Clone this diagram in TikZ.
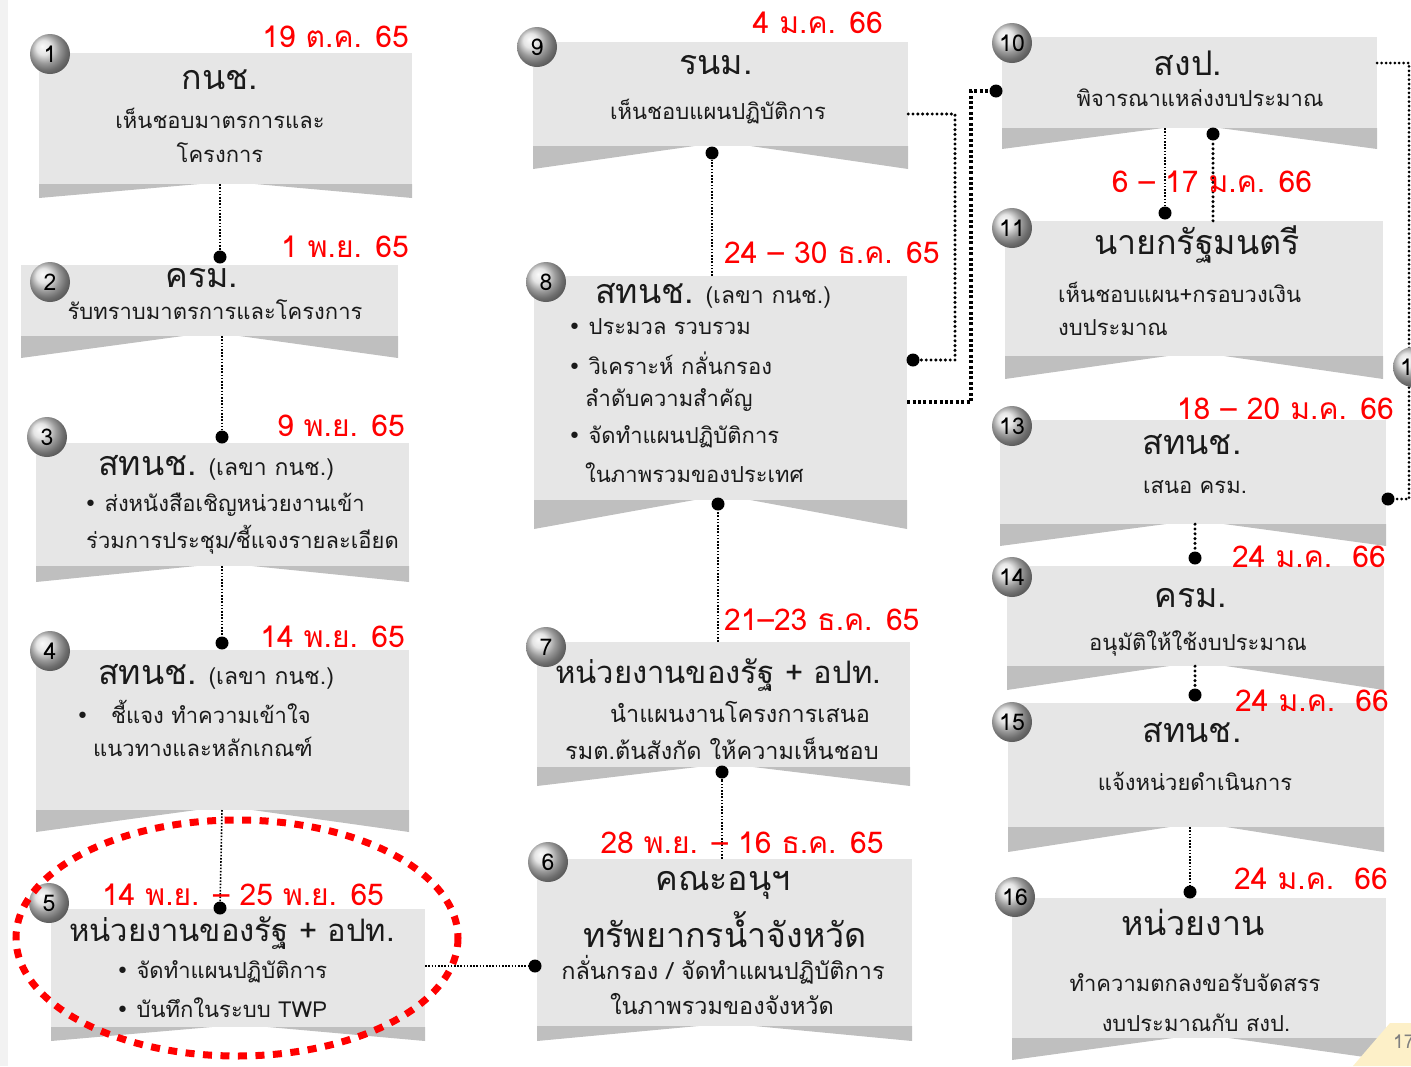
\documentclass[tikz,border=0pt]{standalone}
\usepackage{fontspec}
\setmainfont[Script=Thai]{Loma}
\newfontfamily\dejavu{DejaVu Sans}
\usetikzlibrary{fit}
\definecolor{boxc}{HTML}{E6E6E6}
\definecolor{stripc}{HTML}{BFBFBF}
\definecolor{cream}{HTML}{FDF0C8}
\definecolor{leftbar}{HTML}{F2F2F2}
\definecolor{txt}{HTML}{1A1A1A}
\definecolor{datered}{HTML}{FF0000}
\newcommand\bul{{\dejavu\char"2022}}
\newcommand\mybox[6]{%
  \pgfmathsetmacro\xa{#2+0.43*(#4-#2)}%
  \pgfmathsetmacro\xb{#2+0.58*(#4-#2)}%
  \fill[stripc] (#2,#5) -- (\xa,#5) -- (#2,#6) -- cycle;
  \fill[stripc] (\xb,#5) -- (#4,#5) -- (#4,#6) -- cycle;
  \coordinate (#1nw) at (#2,#3);
  \coordinate (#1se) at (#4,#5);
  \node[fit=(#1nw)(#1se), inner sep=0pt, fill=boxc] (#1) {};
}
\newcommand\secpart[1]{{\fontsize{23}{26}\selectfont #1}}
\begin{document}
\begin{tikzpicture}[x=1pt,y=-1pt,
  ttl/.style={font=\fontsize{34}{38}\selectfont, text=txt, inner sep=0pt},
  ttlb/.style={font=\fontsize{31}{34}\selectfont, text=txt, inner sep=0pt},
  subt/.style={font=\fontsize{22}{26}\selectfont, text=txt, inner sep=0pt},
  subb/.style={font=\fontsize{23.5}{27}\selectfont, text=txt, inner sep=0pt},
  dte/.style={font=\fontsize{30}{33}\selectfont, text=datered, inner sep=0pt},
  numc/.style={circle, minimum size=40pt, inner sep=0pt, ball color=gray!28, text=black, font=\fontsize{23}{25}\selectfont},
  dotn/.style={circle, fill=black, inner sep=0pt, minimum size=13pt},
  thinl/.style={draw=black, line width=1.6pt, dash pattern=on 1.6pt off 1.6pt},
  rdots/.style={draw=black, line width=3.4pt, line cap=round, dash pattern=on 0pt off 4.8pt},
  mdots/.style={draw=black, line width=3pt, line cap=round, dash pattern=on 0pt off 4.4pt},
  sqdots/.style={draw=black, line width=3.2pt, dash pattern=on 3pt off 2.4pt},
  ring/.style={draw=datered, line width=7pt, dash pattern=on 9pt off 8.5pt}
]
\useasboundingbox (0,0) rectangle (1411,1066);
\fill[leftbar] (0,0) rectangle (8,1066);

% ---------- boxes ----------
\mybox{b1}{39}{53}{412}{184}{198}
\mybox{b2}{21}{265}{398}{336}{358}
\mybox{b3}{36}{443}{409}{566}{582}
\mybox{b4}{36}{650}{409}{810}{832}
\mybox{b5}{51}{909}{425}{1027}{1041}
\mybox{b6}{537}{859}{912}{1026}{1041}
\mybox{b7}{537}{642}{910}{767}{786}
\mybox{b8}{534}{276}{907}{500}{529}
\mybox{b9}{533}{42}{908}{146}{169}
\mybox{b10}{1002}{37}{1377}{128}{149}
\mybox{b11}{1005}{221}{1383}{356}{379}
\mybox{b13}{1000}{420}{1386}{524}{546}
\mybox{b14}{1007}{566}{1384}{666}{690}
\mybox{b15}{1008}{703}{1384}{827}{852}
\mybox{b16}{1012}{898}{1386}{1038}{1060}

% page corner
\fill[cream] (1353,1066) -- (1390,1023) -- (1411,1023) -- (1411,1066) -- cycle;
\node[text=gray, font=\fontsize{19}{22}\selectfont, anchor=west, inner sep=0pt] (pg) at (1393,1042) {17};

% ---------- dots ----------
\node[dotn] (d2) at (220,257) {};
\node[dotn] (d3) at (222,437) {};
\node[dotn] (d4) at (222,643) {};
\node[dotn] (d5) at (220,908) {};
\node[dotn] (d6) at (535,966) {};
\node[dotn] (d7) at (722,772) {};
\node[dotn] (d8) at (718,504) {};
\node[dotn] (d9) at (712,153) {};
\node[dotn] (d8r) at (913,360) {};
\node[dotn] (d10l) at (996,91) {};
\node[dotn] (d11) at (1165,213) {};
\node[dotn] (d10b) at (1213,134) {};
\node[dotn] (d13r) at (1388,499) {};
\node[dotn] (d14) at (1195,558) {};
\node[dotn] (d15) at (1195,695) {};
\node[dotn] (d16) at (1190,892) {};

% ---------- connectors ----------
\draw[thinl] (d2 |- b1.south) -- (d2);
\draw[thinl] (d3 |- b2.south) -- (d3);
\draw[thinl] (d4 |- b3.south) -- (d4);
\draw[thinl] (222,810) -- (d5);
\draw[thinl] (b5.east |- d6) -- (d6);
\draw[thinl] (d7 |- b6.north) -- (d7);
\draw[thinl] (d8 |- b7.north) -- (d8);
\draw[thinl] (d9 |- b8.north) -- (d9);
\coordinate (k98) at (955,114);
\draw[rdots] (b9.east |- k98) -- (k98) |- (d8r);
\coordinate (k810) at (971,402);
\draw[sqdots] (b8.east |- k810) -- (k810) |- (d10l);
\draw[thinl] (d11 |- b10.south) -- (d11);
\draw[rdots] (d10b |- b11.north) -- (d10b);
\coordinate (k1013) at (1409,63);
\draw[mdots] (b10.east |- k1013) -- (k1013) |- (d13r);
\draw[rdots] (d14 |- b13.south) -- (d14);
\draw[rdots] (d15 |- b14.south) -- (d15);
\draw[thinl] (d16 |- b15.south) -- (d16);

% ---------- texts ----------
% 1
\node[dte, anchor=east] (dt1) at (409,37) {19 ต.ค. 65};
\node[ttl] (t1) at (220,80) {กนช.};
\node[subt] (s1a) at (220,118) {เห็นชอบมาตรการและ};
\node[subt] (s1b) at (220,153) {โครงการ};
% 2
\node[dte, anchor=east] (dt2) at (409,247) {1 พ.ย. 65};
\node[ttl] (t2) at (202,278) {ครม.};
\node[subt] (s2) at (215,310) {รับทราบมาตรการและโครงการ};
% 3
\node[dte, anchor=east] (dt3) at (405,426) {9 พ.ย. 65};
\node[ttl, anchor=west] (t3) at (98,468) {สทนช.\ \secpart{(เลขา กนช.)}};
\node[subt, anchor=west] (s3a) at (84,505) {\bul\ ส่งหนังสือเชิญหน่วยงานเข้า};
\node[subt, anchor=west] (s3b) at (86,540) {ร่วมการประชุม/ชี้แจงรายละเอียด};
% 4
\node[dte, anchor=east] (dt4) at (405,637) {14 พ.ย. 65};
\node[ttl, anchor=west] (t4) at (98,677) {สทนช.\ \secpart{(เลขา กนช.)}};
\node[subt, anchor=west] (s4a) at (76,712) {\bul\quad ชี้แจง ทำความเข้าใจ};
\node[subt, anchor=west] (s4b) at (93,747) {แนวทางและหลักเกณฑ์};
% 5
\node[dte] (dt5) at (243,895) {14 พ.ย. – 25 พ.ย. 65};
\node[ttlb] (t5) at (232,933) {หน่วยงานของรัฐ + อปท.};
\node[subt, anchor=west] (s5a) at (116,972) {\bul\ จัดทำแผนปฏิบัติการ};
\node[subt, anchor=west] (s5b) at (116,1008) {\bul\ บันทึกในระบบ TWP};
% 6
\node[dte] (dt6) at (742,843) {28 พ.ย. – 16 ธ.ค. 65};
\node[ttl] (t6a) at (723,885) {คณะอนุฯ};
\node[ttl] (t6b) at (725,930) {ทรัพยากรน้ำจังหวัด};
\node[subb] (s6a) at (723,970) {กลั่นกรอง / จัดทำแผนปฏิบัติการ};
\node[subb] (s6b) at (722,1004) {ในภาพรวมของจังหวัด};
% 7
\node[dte, anchor=west] (dt7) at (724,620) {21–23 ธ.ค. 65};
\node[ttlb] (t7) at (718,675) {หน่วยงานของรัฐ + อปท.};
\node[subb] (s7a) at (740,712) {นำแผนงานโครงการเสนอ};
\node[subb] (s7b) at (722,749) {รมต.ต้นสังกัด ให้ความเห็นชอบ};
% 8
\node[dte, anchor=west] (dt8) at (724,253) {24 – 30 ธ.ค. 65};
\node[ttl, anchor=west] (t8) at (595,296) {สทนช.\ \secpart{(เลขา กนช.)}};
\node[subt, anchor=west] (s8a) at (568,327) {\bul\ ประมวล รวบรวม};
\node[subt, anchor=west] (s8b) at (568,363) {\bul\ วิเคราะห์ กลั่นกรอง};
\node[subt, anchor=west] (s8c) at (585,400) {ลำดับความสำคัญ};
\node[subt, anchor=west] (s8d) at (568,437) {\bul\ จัดทำแผนปฏิบัติการ};
\node[subt, anchor=west] (s8e) at (585,473) {ในภาพรวมของประเทศ};
% 9
\node[dte, anchor=east] (dt9) at (883,23) {4 ม.ค. 66};
\node[ttl] (t9) at (716,65) {รนม.};
\node[subt] (s9) at (718,112) {เห็นชอบแผนปฏิบัติการ};
% 10
\node[ttl] (t10) at (1188,63) {สงป.};
\node[subt] (s10) at (1200,98) {พิจารณาแหล่งงบประมาณ};
\node[dte] (dt10) at (1212,182) {6 – 17 ม.ค. 66};
% 11
\node[ttl] (t11) at (1197,245) {นายกรัฐมนตรี};
\node[subt, anchor=west] (s11a) at (1058,292) {เห็นชอบแผน+กรอบวงเงิน};
\node[subt, anchor=west] (s11b) at (1058,328) {งบประมาณ};
% 13
\node[dte, anchor=east] (dt13) at (1394,409) {18 – 20 ม.ค. 66};
\node[ttl] (t13) at (1192,445) {สทนช.};
\node[subt] (s13) at (1195,487) {เสนอ ครม.};
% 14
\node[dte, anchor=east] (dt14) at (1386,557) {24 ม.ค.\ \ 66};
\node[ttl] (t14) at (1191,598) {ครม.};
\node[subt] (s14) at (1198,643) {อนุมัติให้ใช้งบประมาณ};
% 15
\node[dte, anchor=east] (dt15) at (1389,701) {24 ม.ค.\ \ 66};
\node[ttl] (t15) at (1192,733) {สทนช.};
\node[subt] (s15) at (1195,781) {แจ้งหน่วยดำเนินการ};
% 16
\node[dte, anchor=east] (dt16) at (1388,879) {24 ม.ค.\ \ 66};
\node[ttl] (t16) at (1193,922) {หน่วยงาน};
\node[subt] (s16a) at (1195,983) {ทำความตกลงขอรับจัดสรร};
\node[subt] (s16b) at (1196,1023) {งบประมาณกับ สงป.};

% ---------- number circles ----------
\node[numc] (n1) at (50,54) {1};
\node[numc] (n2) at (50,282) {2};
\node[numc] (n3) at (47,437) {3};
\node[numc] (n4) at (50,651) {4};
\node[numc] (n5) at (49,903) {5};
\node[numc] (n6) at (548,862) {6};
\node[numc] (n7) at (546,647) {7};
\node[numc] (n8) at (546,282) {8};
\node[numc] (n9) at (537,47) {9};
\node[numc] (n10) at (1012,43) {10};
\node[numc] (n11) at (1012,228) {11};
\node[numc] (n12) at (1413,367) {12};
\node[numc] (n13) at (1012,426) {13};
\node[numc] (n14) at (1012,577) {14};
\node[numc] (n15) at (1012,722) {15};
\node[numc] (n16) at (1015,897) {16};

% ---------- red highlight ----------
\draw[ring] (237,938) ellipse [x radius=221, y radius=118];
\end{tikzpicture}
\end{document}
